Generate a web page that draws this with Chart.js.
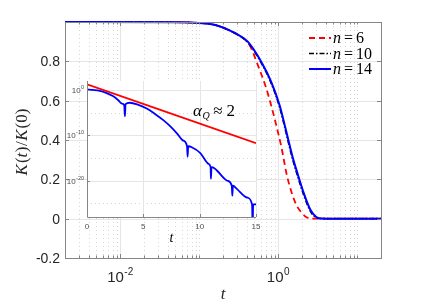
<!DOCTYPE html>
<html>
<head>
<meta charset="utf-8">
<script src="https://cdn.jsdelivr.net/npm/chart.js@4.4.1/dist/chart.umd.min.js"></script>
<style>
  html, body { margin: 0; padding: 0; background: #fff; }
  #wrap { position: relative; width: 432px; height: 305px; }
  #wrap canvas { position: absolute; left: 0; top: 0; }
</style>
</head>
<body>
<div id="wrap">
  <canvas id="mainChart" width="432" height="305"></canvas>
  <canvas id="insetChart" width="432" height="305"></canvas>
</div>
<script>
// main plot: K(t)/K(0) against t (log axis)
const tN6 = [0.002, 0.05, 0.1, 0.16, 0.29, 0.433, 0.552, 0.705, 0.855, 0.989, 1.09, 1.3, 1.66, 2.0, 2.22, 2.69, 20];
const kN6 = [1, 0.999, 0.995, 0.984, 0.94, 0.883, 0.781, 0.663, 0.544, 0.442, 0.37, 0.213, 0.078, 0.028, 0.01, 0, 0];

const tN14 = [0.002, 0.05, 0.1, 0.161, 0.288, 0.412, 0.609, 0.815, 1.039, 1.25, 1.43, 1.53, 1.74, 2.11, 2.565, 3.0, 3.3, 4, 20];
const kN10 = [1, 0.999, 0.995, 0.984, 0.941, 0.896, 0.792, 0.688, 0.568, 0.44, 0.343, 0.298, 0.222, 0.118, 0.036, 0.006, 0.001, 0, 0];
const kN14 = [1, 0.999, 0.995, 0.985, 0.943, 0.9, 0.798, 0.696, 0.578, 0.452, 0.356, 0.31, 0.235, 0.129, 0.044, 0.01, 0.002, 0, 0];

const legendLabels = ['6', '10', '14'];
const yTicks = [-0.2, 0, 0.2, 0.4, 0.6, 0.8];
const xTicks = [0.01, 1];
const xTickExp = ['-2', '0'];

// inset: log |K(t)| against t, plus the exp(-2t) guide line
const tInset = [0, 0.5, 1.13, 1.7, 2.3, 2.8, 3.07, 3.3, 3.37, 3.42, 3.8, 4.5, 5.3, 6.0, 6.8, 7.4, 8.0, 8.5, 8.88, 8.93, 8.98,
  9.3, 10.06, 10.8, 10.97, 11.0, 11.05, 11.3, 11.55, 12.45, 12.85, 12.9, 12.95, 13.3, 14.2, 14.65, 14.7, 14.75, 15];
const kInset = [1.4, 1.1, 0.7, 0.25, 0.047, 5e-3, 1.1e-3, 5e-4, 1.6e-6, 8e-4, 1.6e-3, 6.3e-4, 8.5e-5, 6.3e-6, 2.1e-7, 1e-8, 2.5e-10, 8e-12, 4e-13, 2e-15, 4e-13,
  2.5e-13, 1.3e-14, 5e-17, 1e-17, 2.5e-20, 1e-17, 6e-18, 1.6e-18, 1e-20, 8e-22, 5e-24, 8e-22, 1.6e-22, 2e-24, 6.3e-26, 1e-30, 6.3e-26, 6e-26];
const tFit = [0, 15];
const kFit = [18.6, 2e-12];
const insetXTicks = [0, 5, 10, 15];
const insetYTicks = [1, 1e-10, 1e-20];
const insetYExp = ['0', '-10', '-20'];

const SANS = '"Liberation Sans", Arial, sans-serif';
const SERIF = '"Liberation Serif", "Times New Roman", serif';

function pts(xs, ys) {
  return xs.map((x, i) => ({ x: x, y: ys[i] }));
}

// draws a row of text pieces [text, font, dy, gap]
function drawParts(ctx, parts, x, y, align) {
  let w = 0;
  parts.forEach(p => { ctx.font = p[1]; w += ctx.measureText(p[0]).width + (p[3] || 0); });
  let cx = align === 'center' ? x - w / 2 : (align === 'right' ? x - w : x);
  parts.forEach(p => {
    ctx.font = p[1];
    ctx.fillText(p[0], cx, y + (p[2] || 0));
    cx += ctx.measureText(p[0]).width + (p[3] || 0);
  });
}

const mainDecor = {
  id: 'mainDecor',
  beforeDatasetsDraw(chart) {
    const ctx = chart.ctx;
    const a = chart.chartArea;
    const xs = chart.scales.x, ys = chart.scales.y;
    ctx.save();
    ctx.lineWidth = 1;
    // minor x grid, dotted
    ctx.strokeStyle = '#d6d6d6';
    ctx.setLineDash([1, 3]);
    for (let k = -3; k <= 1; k++) {
      for (let m = 1; m <= 9; m++) {
        const v = m * Math.pow(10, k);
        if (v <= 0.002 || v >= 20 || v === 0.01 || v === 1) continue;
        const px = Math.round(xs.getPixelForValue(v)) + 0.5;
        ctx.beginPath(); ctx.moveTo(px, a.top); ctx.lineTo(px, a.bottom); ctx.stroke();
      }
    }
    // major grid
    ctx.setLineDash([]);
    ctx.strokeStyle = '#e6e6e6';
    xTicks.forEach(v => {
      const px = Math.round(xs.getPixelForValue(v)) + 0.5;
      ctx.beginPath(); ctx.moveTo(px, a.top); ctx.lineTo(px, a.bottom); ctx.stroke();
    });
    yTicks.forEach(v => {
      const py = Math.round(ys.getPixelForValue(v)) + 0.5;
      ctx.beginPath(); ctx.moveTo(a.left, py); ctx.lineTo(a.right, py); ctx.stroke();
    });
    ctx.restore();
  },
  afterDatasetsDraw(chart) {
    const ctx = chart.ctx;
    const a = chart.chartArea;
    const xs = chart.scales.x, ys = chart.scales.y;
    ctx.save();
    // box
    ctx.strokeStyle = '#858585';
    ctx.lineWidth = 1;
    ctx.strokeRect(a.left + 0.5, a.top + 0.5, a.right - a.left, a.bottom - a.top);
    // ticks
    ctx.beginPath();
    for (let k = -3; k <= 1; k++) {
      for (let m = 1; m <= 9; m++) {
        const v = m * Math.pow(10, k);
        if (v <= 0.002 || v >= 20) continue;
        const len = (v === 0.01 || v === 1) ? 4 : 2.5;
        const px = Math.round(xs.getPixelForValue(v)) + 0.5;
        ctx.moveTo(px, a.bottom); ctx.lineTo(px, a.bottom - len);
        ctx.moveTo(px, a.top); ctx.lineTo(px, a.top + len);
      }
    }
    yTicks.forEach(v => {
      const py = Math.round(ys.getPixelForValue(v)) + 0.5;
      ctx.moveTo(a.left, py); ctx.lineTo(a.left + 4, py);
      ctx.moveTo(a.right, py); ctx.lineTo(a.right - 4, py);
    });
    ctx.stroke();

    // tick labels
    ctx.fillStyle = '#262626';
    ctx.textBaseline = 'middle';
    ctx.textAlign = 'right';
    ctx.font = '14px ' + SANS;
    yTicks.forEach(v => {
      ctx.fillText(String(v), a.left - 5, ys.getPixelForValue(v) + 1);
    });
    ctx.textAlign = 'left';
    ctx.textBaseline = 'alphabetic';
    xTicks.forEach((v, i) => {
      drawParts(ctx, [['10', '15px ' + SANS, 0, 0.5], [xTickExp[i], '10px ' + SANS, -7]],
        xs.getPixelForValue(v), a.bottom + 24, 'center');
    });

    // axis labels
    drawParts(ctx, [['t', 'italic 17px ' + SERIF]], (a.left + a.right) / 2, 299, 'center');
    ctx.save();
    ctx.translate(27, (a.top + a.bottom) / 2 + 2);
    ctx.rotate(-Math.PI / 2);
    const f = '17px ' + SERIF, fi = 'italic 17px ' + SERIF;
    drawParts(ctx, [['K', fi, 0, 1], ['(', f], ['t', fi, 0, 0.5], [')', f, 0, 0.5], ['/', f, 0, 0.5],
      ['K', fi, 0, 1], ['(', f], ['0', f], [')', f]], 0, 0, 'center');
    ctx.restore();

    // legend
    const styles = chart.data.datasets;
    legendLabels.forEach((lab, i) => {
      const ds = styles[i];
      const ly = 38 + i * 15.5;
      ctx.save();
      ctx.strokeStyle = ds.borderColor;
      ctx.lineWidth = ds.borderWidth;
      ctx.setLineDash(ds.borderDash || []);
      ctx.beginPath(); ctx.moveTo(309, ly); ctx.lineTo(331, ly); ctx.stroke();
      ctx.restore();
      ctx.fillStyle = '#000';
      drawParts(ctx, [['n', 'italic 16px ' + SERIF, 0, 3], ['=', '16px ' + SERIF, 0, 3], [lab, '16px ' + SERIF]],
        333, ly + 5, 'left');
    });
    ctx.restore();
  }
};

const insetDecor = {
  id: 'insetDecor',
  beforeDatasetsDraw(chart) {
    const ctx = chart.ctx;
    const a = chart.chartArea;
    const xs = chart.scales.x, ys = chart.scales.y;
    ctx.save();
    ctx.fillStyle = '#fff';
    ctx.fillRect(a.left, a.top, a.right - a.left, a.bottom - a.top);
    ctx.lineWidth = 1;
    // dotted minor grid at half decades
    ctx.strokeStyle = '#d6d6d6';
    ctx.setLineDash([1, 3]);
    [1e-5, 1e-15, 1e-25].forEach(v => {
      const py = Math.round(ys.getPixelForValue(v)) + 0.5;
      ctx.beginPath(); ctx.moveTo(a.left, py); ctx.lineTo(a.right, py); ctx.stroke();
    });
    ctx.setLineDash([]);
    ctx.strokeStyle = '#e6e6e6';
    insetYTicks.forEach(v => {
      const py = Math.round(ys.getPixelForValue(v)) + 0.5;
      ctx.beginPath(); ctx.moveTo(a.left, py); ctx.lineTo(a.right, py); ctx.stroke();
    });
    insetXTicks.forEach(v => {
      const px = Math.round(xs.getPixelForValue(v)) + 0.5;
      ctx.beginPath(); ctx.moveTo(px, a.top); ctx.lineTo(px, a.bottom); ctx.stroke();
    });
    ctx.restore();
  },
  afterDatasetsDraw(chart) {
    const ctx = chart.ctx;
    const a = chart.chartArea;
    const xs = chart.scales.x, ys = chart.scales.y;
    ctx.save();
    ctx.strokeStyle = '#858585';
    ctx.lineWidth = 1;
    ctx.beginPath();
    ctx.moveTo(a.left + 0.5, a.top); ctx.lineTo(a.left + 0.5, a.bottom + 0.5); ctx.lineTo(a.right, a.bottom + 0.5);
    insetXTicks.forEach(v => {
      const px = Math.round(xs.getPixelForValue(v)) + 0.5;
      ctx.moveTo(px, a.bottom); ctx.lineTo(px, a.bottom - 3);
    });
    insetYTicks.forEach(v => {
      const py = Math.round(ys.getPixelForValue(v)) + 0.5;
      ctx.moveTo(a.left, py); ctx.lineTo(a.left + 3, py);
    });
    ctx.stroke();

    ctx.fillStyle = '#4d4d4d';
    ctx.textBaseline = 'alphabetic';
    insetXTicks.forEach(v => {
      drawParts(ctx, [[String(v), '8px ' + SANS]], xs.getPixelForValue(v), a.bottom + 12, 'center');
    });
    insetYTicks.forEach((v, i) => {
      const py = ys.getPixelForValue(v);
      drawParts(ctx, [['10', '8px ' + SANS, 0, 0.3], [insetYExp[i], '5.5px ' + SANS, -4]], a.left - 3, py + 3, 'right');
    });

    ctx.fillStyle = '#000';
    drawParts(ctx, [['t', 'italic 14px ' + SERIF]], (a.left + a.right) / 2, 242, 'center');
    drawParts(ctx, [['α', 'italic 17px ' + SERIF, 0, 0.5], ['Q', 'italic 10px ' + SERIF, 3, 3.5],
      ['≈', '17px ' + SERIF, 0, 4], ['2', '17px ' + SERIF]], 193, 116, 'left');
    ctx.restore();
  }
};

new Chart(document.getElementById('mainChart'), {
  type: 'line',
  data: {
    datasets: [
      { data: pts(tN6, kN6), borderColor: '#ff0000', borderWidth: 1.8, borderDash: [6, 4], order: 2 },
      { data: pts(tN14, kN10), borderColor: '#000000', borderWidth: 1.6, borderDash: [5, 2, 1.5, 2], order: 1 },
      { data: pts(tN14, kN14), borderColor: '#0000ff', borderWidth: 2, order: 0 }
    ]
  },
  options: {
    responsive: false,
    animation: false,
    parsing: false,
    layout: { padding: { left: 65, top: 22, right: 51, bottom: 47 } },
    elements: {
      point: { radius: 0 },
      line: { cubicInterpolationMode: 'monotone', fill: false }
    },
    datasets: { line: { clip: 4 } },
    scales: {
      x: { type: 'logarithmic', min: 0.002, max: 20, display: false },
      y: { type: 'linear', min: -0.2, max: 1, display: false }
    },
    plugins: { legend: { display: false }, tooltip: { enabled: false } }
  },
  plugins: [mainDecor]
});

new Chart(document.getElementById('insetChart'), {
  type: 'line',
  data: {
    datasets: [
      { data: pts(tFit, kFit), borderColor: '#ff0000', borderWidth: 1.8, tension: 0, order: 0 },
      { data: pts(tInset, kInset), borderColor: '#0000ff', borderWidth: 1.8, order: 1 }
    ]
  },
  options: {
    responsive: false,
    animation: false,
    parsing: false,
    layout: { padding: { left: 87, top: 81, right: 176, bottom: 88 } },
    elements: {
      point: { radius: 0 },
      line: { cubicInterpolationMode: 'monotone', fill: false }
    },
    scales: {
      x: { type: 'linear', min: 0, max: 15, display: false },
      y: { type: 'logarithmic', min: 1e-28, max: 1e2, display: false }
    },
    plugins: { legend: { display: false }, tooltip: { enabled: false } }
  },
  plugins: [insetDecor]
});
</script>
</body>
</html>
